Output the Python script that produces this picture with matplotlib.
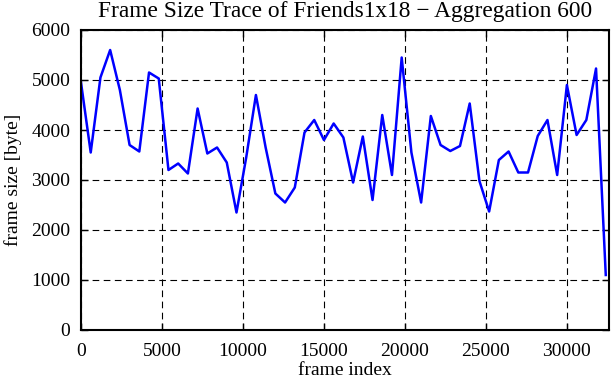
import numpy as np
import matplotlib
matplotlib.use("Agg")
import matplotlib.pyplot as plt

# aggregated frame sizes (one value per 600 frames)
agg_step = 600
frame_size = [
    4950, 3550, 5050, 5600, 4800, 3700, 3570, 5150, 5030, 3200,
    3330, 3130, 4430, 3530, 3650, 3350, 2350, 3450, 4700, 3650,
    2730, 2550, 2850, 3950, 4200, 3800, 4130, 3850, 2950, 3870,
    2600, 4300, 3100, 5450, 3550, 2550, 4280, 3700, 3580, 3680,
    4530, 2980, 2370, 3400, 3570, 3150, 3150, 3880, 4200, 3100,
    4900, 3900, 4200, 5230, 1100,
]
frame_index = [i * agg_step for i in range(len(frame_size))]

x_ticks = [0, 5000, 10000, 15000, 20000, 25000, 30000]
y_ticks = [0, 1000, 2000, 3000, 4000, 5000, 6000]

plt.rcParams['font.family'] = ['Liberation Serif', 'DejaVu Serif']
plt.rcParams['font.size'] = 14

fig = plt.figure(figsize=(6.11, 3.80), dpi=100)
ax = fig.add_axes([81 / 611, 50 / 380, 528 / 611, 300 / 380])

ax.plot(frame_index, frame_size, color='#0000ff', linewidth=1.8)

ax.set_xlim(0, 32600)
ax.set_ylim(0, 6000)
ax.set_xticks(x_ticks)
ax.set_yticks(y_ticks)
ax.grid(True, color='black', linestyle=(0, (6, 4)), linewidth=0.8)
ax.tick_params(direction='in', length=5, width=1, top=True, right=True)
ax.tick_params(axis='x', pad=9)
ax.tick_params(axis='y', pad=7.7)
for s in ax.spines.values():
    s.set_linewidth(1.5)

ax.set_title("Frame Size Trace of Friends1x18 \u2212 Aggregation 600", pad=9)
ax.set_xlabel("frame index", labelpad=2)
ax.set_ylabel("frame size [byte]", labelpad=6.5)

fig.savefig("out.png", dpi=100)
